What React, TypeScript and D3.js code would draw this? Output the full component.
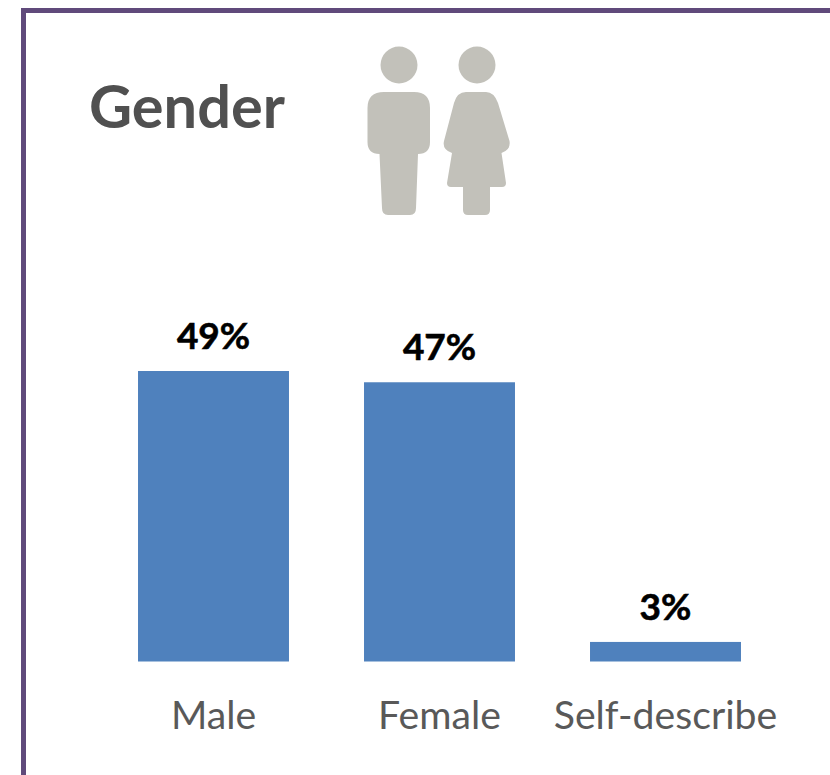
import React from "react";
import * as d3 from "d3";

const categories = ["Male", "Female", "Self-describe"];
const values = [49, 47.1, 3.3];
const valueLabels = ["49%", "47%", "3%"];
const titleText = "Gender";

const W = 830, H = 775;
const FONT = "Lato, Carlito, Calibri, sans-serif";

const manPath = "M384 92H414Q430 92 430 108V142Q430 154 418 154L416 208Q416 215 410 215H388Q382 215 382 208L379.5 154Q367.5 154 367.5 142V108Q367.5 92 384 92Z";
const womanPath = "M466 92H486Q494 92 498 103L509.5 141Q511 150 501.5 153L506 183Q506 187 502 187H490V210Q490 215 485 215H468Q463 215 463 210V187H451Q447 187 447 183L452 153Q442 150 444 141L454 103Q457 92 466 92Z";

export default function App() {
  const x = d3.scaleBand<string>().domain(categories).range([100.5, 778.5]).paddingInner(0.332).paddingOuter(0.166);
  const y = d3.scaleLinear().domain([0, 49]).range([661.5, 371]);
  return (
    <svg width={W} height={H} viewBox={`0 0 ${W} ${H}`} style={{ position: "absolute", left: 0, top: 0, background: "#fff" }}>
      <path d={`M23.5 ${H + 5}V10.5H${W + 5}`} fill="none" stroke="#604A7B" strokeWidth={5} />
      <text x={89} y={128} fontFamily={FONT} fontWeight={700} fontSize={59.5} fill="#505050">{titleText}</text>
      <g fill="#C2C1BA">
        <circle cx={399} cy={65} r={18.5} />
        <path d={manPath} />
        <circle cx={477} cy={65} r={18.5} />
        <path d={womanPath} />
      </g>
      {categories.map((c, i) => (
        <g key={c}>
          <rect x={x(c)} y={y(values[i])} width={x.bandwidth()} height={y(0) - y(values[i])} fill="#4F81BD" />
          <text x={x(c)! + x.bandwidth() / 2} y={y(values[i]) - 22} textAnchor="middle" fontFamily={FONT} fontWeight={700} fontSize={37} fill="#000" stroke="#000" strokeWidth={0.6}>{valueLabels[i]}</text>
          <text x={x(c)! + x.bandwidth() / 2} y={729} textAnchor="middle" fontFamily={FONT} fontSize={39.2} fill="#595959">{c}</text>
        </g>
      ))}
    </svg>
  );
}
